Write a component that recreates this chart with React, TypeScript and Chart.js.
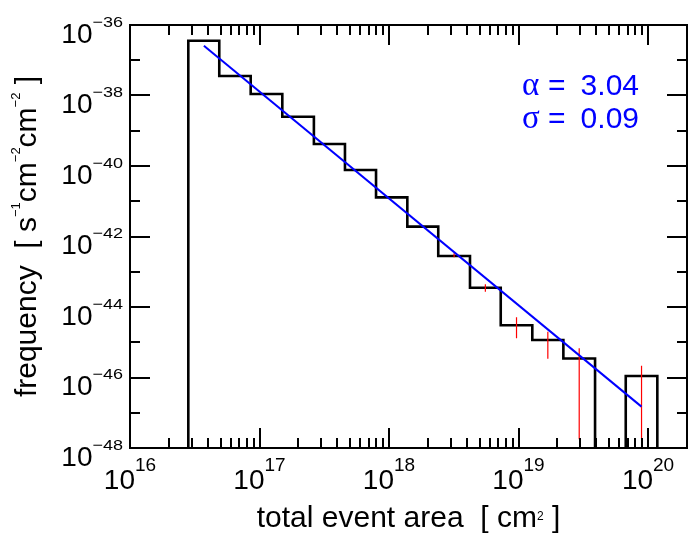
import React, { useEffect, useRef } from "react";
import { Chart, registerables } from "chart.js";

Chart.register(...registerables);

// ---- data ----
const binEdges = [
  2.82e16, 4.89e16, 8.55e16, 1.5e17, 2.63e17, 4.57e17, 7.94e17, 1.385e18,
  2.4e18, 4.22e18, 7.29e18, 1.278e19, 2.22e19, 3.9e19, 6.73e19, 1.18e20,
];
const binFrequency = [
  3.59e-37, 3.57e-38, 1.1e-38, 2.5e-39, 4.21e-40, 7.7e-41, 1.29e-41, 1.9e-42,
  2.8e-43, 3.53e-44, 3.03e-45, 1.16e-45, 3.46e-46, 0, 1.1e-46,
];
const errLow: (number | null)[] = [
  null, null, null, null, null, null, null, null,
  2.57e-43, 2.72e-44, 1.29e-45, 3.41e-46, 1.77e-48, null, 1.77e-48,
];
const errHigh: (number | null)[] = [
  null, null, null, null, null, null, null, null,
  3.33e-43, 4.41e-44, 5.1e-45, 1.99e-45, 6.73e-46, null, 2.16e-46,
];
const fitX = [3.72e16, 8.9e19];
const fitY = [2.59e-37, 1.49e-47];
const xDecades = [16, 17, 18, 19, 20];
const xMinorMultipliers = [2, 3, 4, 5, 6, 7, 8, 9];
const yLabelExponents = [-36, -38, -40, -42, -44, -46, -48];
const yMinorExponents = [-37, -39, -41, -43, -45, -47];
const alphaValue = "3.04";
const sigmaValue = "0.09";
const xTitle = "total event area  [ cm";
const xTitleSup = "2";
const yTitleParts = ["frequency  [ s", "−1", "cm", "−2", "cm", "−2", " ]"];

const X_MIN = 1e16;
const X_MAX = 2e20;
const Y_MIN = 1e-48;
const Y_MAX = 1e-36;
const FLOOR = 1e-50;

const SANS = '"Liberation Sans", Arial, Helvetica, sans-serif';
const SERIF = '"Liberation Serif", "Times New Roman", serif';

type Seg = { text: string; font: string; dy?: number; sx?: number };

function drawSegments(
  ctx: CanvasRenderingContext2D,
  segs: Seg[],
  x: number,
  y: number,
  align: "left" | "center" | "right"
) {
  ctx.textAlign = "left";
  ctx.textBaseline = "alphabetic";
  let total = 0;
  const widths = segs.map((s) => {
    ctx.font = s.font;
    const w = ctx.measureText(s.text).width * (s.sx || 1);
    total += w;
    return w;
  });
  let cx = align === "center" ? x - total / 2 : align === "right" ? x - total : x;
  segs.forEach((s, i) => {
    ctx.font = s.font;
    ctx.save();
    ctx.translate(cx, y + (s.dy || 0));
    ctx.scale(s.sx || 1, 1);
    ctx.fillText(s.text, 0, 0);
    ctx.restore();
    cx += widths[i];
  });
}

const TICK_W = 2;

const axesPlugin = {
  id: "customAxes",
  afterDraw(chart: any) {
    const ctx: CanvasRenderingContext2D = chart.ctx;
    const xs = chart.scales.x;
    const ys = chart.scales.y;
    const area = chart.chartArea;
    const L = area.left;
    const R = area.right;
    const T = area.top;
    const B = area.bottom;
    ctx.save();
    ctx.fillStyle = "#000000";
    ctx.strokeStyle = "#000000";

    // x ticks (inward, bottom and top)
    for (let i = 0; i < xDecades.length; i++) {
      const base = Math.pow(10, xDecades[i]);
      const vals = [base].concat(xMinorMultipliers.map((m) => m * base));
      for (let j = 0; j < vals.length; j++) {
        const v = vals[j];
        if (v <= X_MIN * 1.0001 || v >= X_MAX * 0.9999) continue;
        const len = j === 0 ? 20 : 10;
        const px = Math.round(xs.getPixelForValue(v));
        ctx.fillRect(px - TICK_W / 2, B - len, TICK_W, len);
        ctx.fillRect(px - TICK_W / 2, T, TICK_W, len);
      }
    }

    // y ticks (inward, left and right)
    const yTickList = yLabelExponents
      .map((e) => [e, 20])
      .concat(yMinorExponents.map((e) => [e, 10]));
    for (let k = 0; k < yTickList.length; k++) {
      const e = yTickList[k][0];
      const len = yTickList[k][1];
      const py = Math.round(ys.getPixelForValue(Math.pow(10, e)));
      ctx.fillRect(L, py - TICK_W / 2, len, TICK_W);
      ctx.fillRect(R - len, py - TICK_W / 2, len, TICK_W);
    }

    // frame
    ctx.lineWidth = 2;
    ctx.strokeRect(L, T, R - L, B - T);

    // x tick labels
    xDecades.forEach((d) => {
      const px = xs.getPixelForValue(Math.pow(10, d));
      drawSegments(
        ctx,
        [
          { text: "10", font: `28px ${SANS}` },
          { text: String(d), font: `19px ${SANS}`, dy: -18 },
        ],
        px,
        489,
        "center"
      );
    });

    // y tick labels
    yLabelExponents.forEach((e) => {
      const py = ys.getPixelForValue(Math.pow(10, e));
      drawSegments(
        ctx,
        [
          { text: "10", font: `28px ${SANS}` },
          { text: "−" + String(-e), font: `15px ${SANS}`, dy: -16, sx: 1.2 },
        ],
        123,
        py + 17.5,
        "right"
      );
    });

    // x title
    drawSegments(
      ctx,
      [
        { text: xTitle, font: `30px ${SANS}` },
        { text: xTitleSup, font: `12px ${SANS}`, dy: -7 },
        { text: " ]", font: `30px ${SANS}` },
      ],
      (L + R) / 2,
      527,
      "center"
    );

    // y title
    ctx.save();
    ctx.translate(36, (T + B) / 2);
    ctx.rotate(-Math.PI / 2);
    drawSegments(
      ctx,
      yTitleParts.map((t, i) =>
        i % 2 === 1
          ? { text: t, font: `13px ${SANS}`, dy: -16 }
          : { text: t, font: `30px ${SANS}` }
      ),
      0,
      0,
      "center"
    );
    ctx.restore();

    // fit annotation
    ctx.fillStyle = "#0000ff";
    ctx.textAlign = "left";
    ctx.textBaseline = "alphabetic";
    ctx.font = `33px ${SERIF}`;
    ctx.fillText("α", 522, 95);
    ctx.fillText("σ", 522, 128);
    ctx.font = `30px ${SANS}`;
    ctx.fillText("=", 548, 95);
    ctx.fillText("=", 548, 128);
    ctx.textAlign = "right";
    ctx.fillText(alphaValue, 639, 95);
    ctx.fillText(sigmaValue, 639, 128);

    ctx.restore();
  },
};

export default function App() {
  const canvasRef = useRef<HTMLCanvasElement | null>(null);

  useEffect(() => {
    const canvas = canvasRef.current;
    if (!canvas) return;

    const histPoints: { x: number; y: number }[] = [{ x: binEdges[0], y: FLOOR }];
    binFrequency.forEach((v, i) => {
      histPoints.push({ x: binEdges[i], y: v > 0 ? v : FLOOR });
    });
    histPoints.push({ x: binEdges[binEdges.length - 1], y: FLOOR });

    const errPoints: { x: number; y: number | null }[] = [];
    binFrequency.forEach((_, i) => {
      const lo = errLow[i];
      const hi = errHigh[i];
      if (lo == null || hi == null) return;
      const c = Math.sqrt(binEdges[i] * binEdges[i + 1]);
      errPoints.push({ x: c, y: lo }, { x: c, y: hi }, { x: c, y: null });
    });

    const fitPoints = fitX.map((x, i) => ({ x, y: fitY[i] }));

    const chart = new Chart(canvas, {
      type: "line",
      data: {
        datasets: [
          {
            data: fitPoints,
            borderColor: "#0000ff",
            borderWidth: 2,
            pointRadius: 0,
            order: 1,
          },
          {
            data: errPoints as any,
            borderColor: "#ff0000",
            borderWidth: 1.2,
            pointRadius: 0,
            spanGaps: false,
            order: 2,
          },
          {
            data: histPoints,
            borderColor: "#000000",
            borderWidth: 2.6,
            pointRadius: 0,
            stepped: "before",
            order: 3,
          },
        ],
      },
      options: {
        animation: false,
        responsive: false,
        devicePixelRatio: 1,
        layout: { padding: { left: 130, top: 25, right: 1, bottom: 85 } },
        plugins: { legend: { display: false }, tooltip: { enabled: false } },
        scales: {
          x: { type: "logarithmic", min: X_MIN, max: X_MAX, display: false },
          y: { type: "logarithmic", min: Y_MIN, max: Y_MAX, display: false },
        },
      },
      plugins: [axesPlugin],
    });

    return () => chart.destroy();
  }, []);

  return (
    <div style={{ position: "absolute", left: 0, top: 0, width: 688, height: 533, background: "#fff" }}>
      <canvas ref={canvasRef} width={688} height={533} style={{ display: "block" }} />
    </div>
  );
}
